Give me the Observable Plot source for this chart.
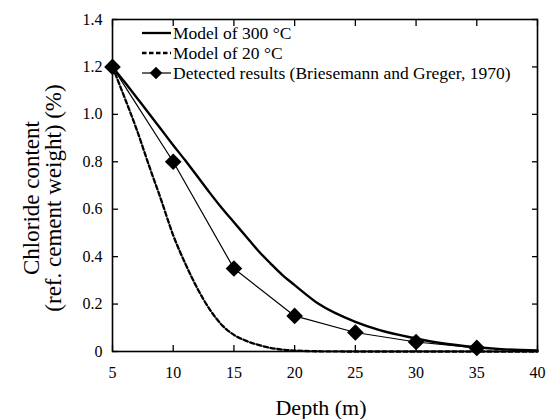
<!DOCTYPE html>
<html><head><meta charset="utf-8">
<script src="https://cdn.jsdelivr.net/npm/d3@7"></script>
<script src="https://cdn.jsdelivr.net/npm/@observablehq/plot@0.6"></script>
<style>body{margin:0;background:#fff}#c{position:relative;width:547px;height:419px}
svg text{font-family:"Liberation Serif","Tinos","Times New Roman",Times,"DejaVu Serif",serif}
svg g[aria-label$="tick label"] text, svg g[aria-label$="tick label"]{font-size:16px !important}</style>
</head><body><div id="c"></div>
<script>
const model300Depth = [5,6,7,8,9,10,11,12,13,14,15,16,17,18,19,20,22,25,27,30,32,35,37,40];
const model300Value = [1.2,1.136,1.07,1.004,0.937,0.87,0.805,0.738,0.67,0.605,0.545,0.485,0.425,0.372,0.322,0.28,0.2,0.125,0.09,0.055,0.036,0.018,0.01,0.004];
const model20Depth = [5,6,7,8,9,10,11,12,13,14,15,16,17,18,19,20,22,25,30,35,40];
const model20Value = [1.2,1.07,0.935,0.785,0.64,0.49,0.37,0.265,0.178,0.112,0.07,0.045,0.028,0.015,0.008,0.004,0.001,0,0,0,0];
const detectedDepth = [5,10,15,20,25,30,35];
const detectedValue = [1.2,0.8,0.35,0.15,0.08,0.04,0.015];
const xTicks = [5,10,15,20,25,30,35,40];
const yTicks = [0,0.2,0.4,0.6,0.8,1.0,1.2,1.4];
const legendLabels = ["Model of 300 °C","Model of 20 °C","Detected results (Briesemann and Greger, 1970)"];

const m300 = model300Depth.map((d,i)=>({d, v:model300Value[i]}));
const m20 = model20Depth.map((d,i)=>({d, v:model20Value[i]}));
const det = detectedDepth.map((d,i)=>({d, v:detectedValue[i]}));

const plot = Plot.plot({
  width: 547, height: 419,
  marginLeft: 112, marginRight: 10, marginTop: 19, marginBottom: 68,
  style: {fontSize: "16px", color: "#000", background: "#fff"},
  x: {domain: [5,40]},
  y: {domain: [0,1.4]},
  marks: [
    Plot.axisX({ticks: xTicks, tickSize: 0, tickPadding: 15, label: null, tickFormat: d=>String(d)}),
    Plot.axisY({ticks: yTicks, tickSize: 0, tickPadding: 10, label: null, tickFormat: d=> d===0 ? "0" : d.toFixed(1)}),
    Plot.axisX({ticks: xTicks, tickSize: -6, text: null, label: null, anchor: "bottom", strokeWidth: 1.3}),
    Plot.axisX({ticks: xTicks, tickSize: -6, text: null, label: null, anchor: "top", strokeWidth: 1.3}),
    Plot.axisY({ticks: yTicks, tickSize: -6, text: null, label: null, anchor: "left", strokeWidth: 1.3}),
    Plot.axisY({ticks: yTicks, tickSize: -6, text: null, label: null, anchor: "right", strokeWidth: 1.3}),
    Plot.line(m20, {x:"d", y:"v", stroke:"#000", strokeWidth:2.3, strokeDasharray:"4.5,2.5", curve:"monotone-x"}),
    Plot.line(m300, {x:"d", y:"v", stroke:"#000", strokeWidth:2.4, curve:"monotone-x"}),
    Plot.line(det, {x:"d", y:"v", stroke:"#000", strokeWidth:1.2}),
    Plot.dot(det, {x:"d", y:"v", symbol:"diamond2", fill:"#000", stroke:"none", r:7.5}),
    Plot.frame({stroke:"#000", strokeWidth:1.6})
  ]
});
document.getElementById("c").appendChild(plot);

// axis titles and legend overlay
const svg = d3.select(plot);
svg.append("text").attr("x", 321).attr("y", 415).attr("text-anchor","middle")
  .style("font-size","22px").text("Depth (m)");
const yl = svg.append("text").attr("transform","translate(0,198) rotate(-90)")
  .attr("text-anchor","middle").style("font-size","23px");
yl.append("tspan").attr("x",0).attr("y",39).text("Chloride content");
yl.append("tspan").attr("x",0).attr("y",61).text("(ref. cement weight) (%)");

const lg = svg.append("g").style("font-size","17.5px").attr("text-anchor","start");
legendLabels.forEach((t,i)=>{
  const yy = 33 + i*20;
  const ln = lg.append("line").attr("x1",142).attr("x2",171).attr("y1",yy).attr("y2",yy).attr("stroke","#000");
  if (i===0) ln.attr("stroke-width",2.3);
  if (i===1) ln.attr("stroke-width",2.3).attr("stroke-dasharray","4.5,2.5");
  if (i===2) { ln.attr("stroke-width",1.2);
    lg.append("path").attr("d", d3.symbol(d3.symbolDiamond2, 100)()).attr("transform",`translate(156,${yy})`).attr("fill","#000"); }
  lg.append("text").attr("x",173).attr("y",yy).attr("dy","0.35em").attr("text-anchor","start").text(t);
});
</script></body></html>
